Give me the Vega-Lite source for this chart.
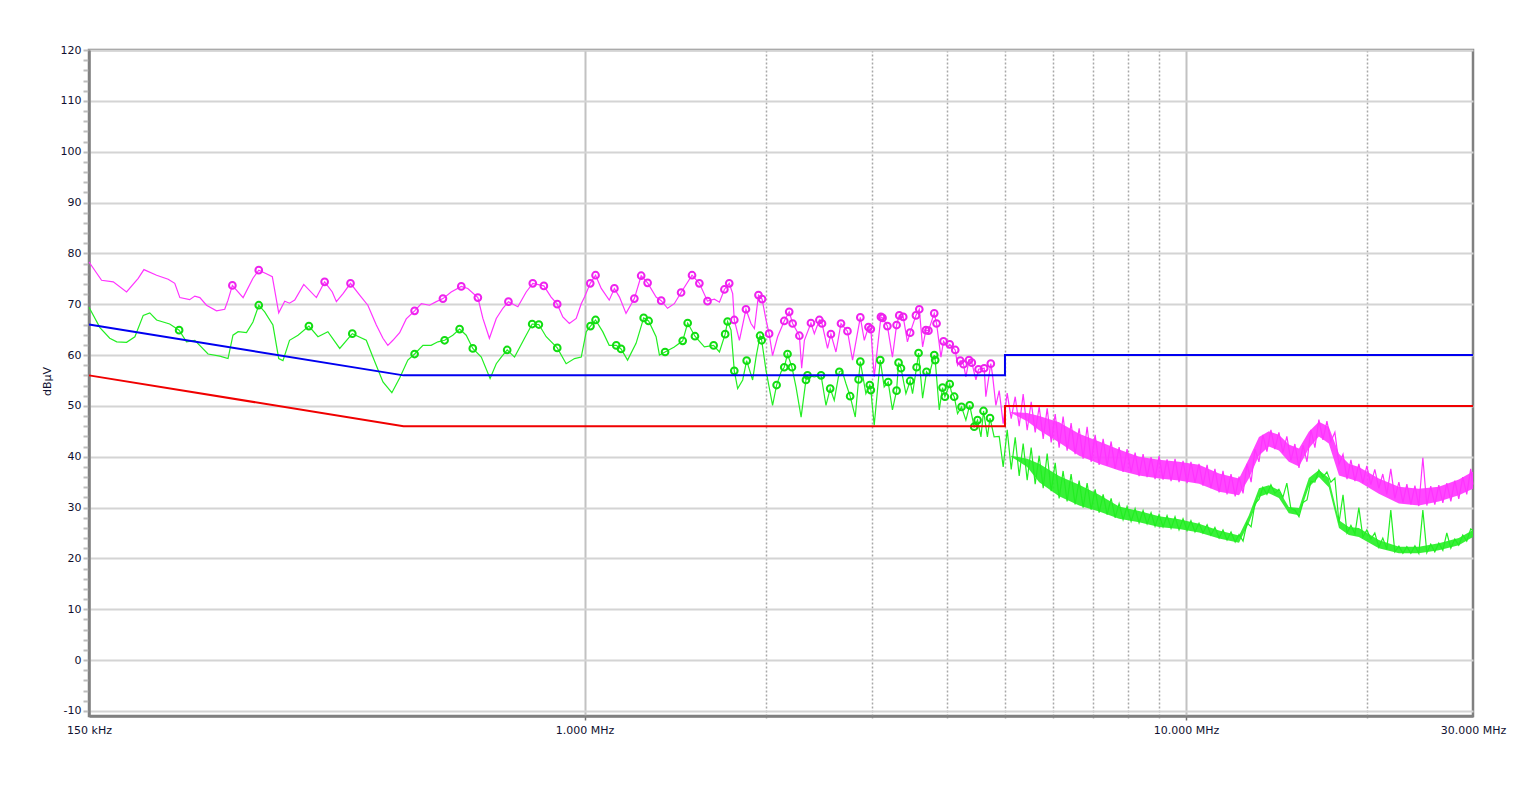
{
"$schema": "https://vega.github.io/schema/vega-lite/v6.json",
"width": 1384, "height": 666,
"autosize": {"type": "none"},
"padding": {"left": 89, "top": 50, "right": 51, "bottom": 71},
"background": "white",
"config": {"font": "DejaVu Sans", "view": {"stroke": "#808080", "strokeWidth": 2.5}},
"datasets": {
"lim": [{"f":0.15,"v":66,"l":"QP"},{"f":0.5,"v":56,"l":"QP"},{"f":5,"v":56,"l":"QP"},{"f":5,"v":60,"l":"QP"},{"f":30,"v":60,"l":"QP"},
{"f":0.15,"v":56,"l":"AV"},{"f":0.5,"v":46,"l":"AV"},{"f":5,"v":46,"l":"AV"},{"f":5,"v":50,"l":"AV"},{"f":30,"v":50,"l":"AV"}],
"pkband": [{"f":5.121,"lo":48.6,"hi":48.8},{"f":5.444,"lo":47.0,"hi":48.6},{"f":5.700,"lo":45.2,"hi":48.0},{"f":6.152,"lo":42.8,"hi":46.8},{"f":6.642,"lo":40.2,"hi":44.5},{"f":7.170,"lo":38.6,"hi":43.0},{"f":7.740,"lo":37.3,"hi":41.4},{"f":8.355,"lo":36.3,"hi":40.0},{"f":9.019,"lo":35.7,"hi":39.4},{"f":9.736,"lo":35.3,"hi":39.0},{"f":10.51,"lo":34.7,"hi":38.4},{"f":11.35,"lo":33.1,"hi":36.7},{"f":12.25,"lo":32.4,"hi":35.7},{"f":12.72,"lo":35.7,"hi":39.6},{"f":13.22,"lo":40.2,"hi":43.9},{"f":13.73,"lo":42.0,"hi":45.0},{"f":14.27,"lo":41.2,"hi":44.3},{"f":14.82,"lo":39.0,"hi":42.4},{"f":15.41,"lo":38.1,"hi":41.6},{"f":16.00,"lo":41.6,"hi":44.9},{"f":16.63,"lo":44.0,"hi":46.9},{"f":17.27,"lo":42.6,"hi":45.9},{"f":17.96,"lo":36.3,"hi":40.6},{"f":18.65,"lo":35.7,"hi":38.6},{"f":19.38,"lo":35.1,"hi":38.0},{"f":20.92,"lo":32.7,"hi":35.7},{"f":22.59,"lo":30.8,"hi":34.1},{"f":24.38,"lo":30.4,"hi":33.7},{"f":26.32,"lo":31.2,"hi":34.1},{"f":28.41,"lo":32.4,"hi":35.5},{"f":30.0,"lo":33.7,"hi":37.1}],
"avband": [{"f":5.121,"lo":40.0,"hi":40.2},{"f":5.444,"lo":38.0,"hi":39.6},{"f":5.700,"lo":35.0,"hi":38.6},{"f":6.152,"lo":32.2,"hi":36.2},{"f":6.642,"lo":30.4,"hi":34.5},{"f":7.170,"lo":29.2,"hi":32.5},{"f":7.740,"lo":27.8,"hi":30.2},{"f":8.355,"lo":27.1,"hi":29.3},{"f":9.019,"lo":26.2,"hi":28.3},{"f":9.736,"lo":25.8,"hi":27.7},{"f":10.51,"lo":25.1,"hi":26.8},{"f":11.35,"lo":23.9,"hi":25.5},{"f":12.25,"lo":23.1,"hi":24.5},{"f":12.72,"lo":26.9,"hi":28.5},{"f":13.22,"lo":32.1,"hi":33.8},{"f":13.73,"lo":32.8,"hi":34.4},{"f":14.27,"lo":31.9,"hi":33.4},{"f":14.82,"lo":28.9,"hi":30.1},{"f":15.41,"lo":28.5,"hi":29.9},{"f":16.00,"lo":34.0,"hi":35.8},{"f":16.63,"lo":36.0,"hi":37.4},{"f":17.27,"lo":34.0,"hi":35.8},{"f":17.96,"lo":26.0,"hi":27.5},{"f":18.65,"lo":24.6,"hi":26.2},{"f":19.38,"lo":24.2,"hi":26.0},{"f":20.92,"lo":22.0,"hi":23.6},{"f":22.59,"lo":21.0,"hi":22.3},{"f":24.38,"lo":21.0,"hi":22.3},{"f":26.32,"lo":21.6,"hi":23.0},{"f":28.41,"lo":22.6,"hi":24.0},{"f":30.0,"lo":24.2,"hi":25.6}],
"pk": [
{"f":0.150,"v":78.3},{"f":0.1574,"v":74.7},{"f":0.1646,"v":74.4},{"f":0.1732,"v":72.4},{"f":0.1811,"v":75.1},{"f":0.1851,"v":76.8},{"f":0.1943,"v":75.7},{"f":0.2031,"v":74.9},{"f":0.2083,"v":74.1},{"f":0.2124,"v":71.3},{"f":0.2205,"v":70.9},{"f":0.2249,"v":71.6},{"f":0.2293,"v":71.3},{"f":0.2352,"v":69.8},{"f":0.2444,"v":68.7},{"f":0.2522,"v":69.0},{"f":0.2554,"v":70.8},{"f":0.2597,"v":73.7,"m":1},{"f":0.2706,"v":71.3},{"f":0.2810,"v":75.1},{"f":0.2873,"v":76.7,"m":1},{"f":0.2958,"v":76.0},{"f":0.3026,"v":75.4},{"f":0.3101,"v":68.3},{"f":0.3173,"v":70.6},{"f":0.3232,"v":70.2},{"f":0.3297,"v":70.8},{"f":0.3413,"v":73.9},{"f":0.3582,"v":71.3},{"f":0.3697,"v":74.4,"m":1},{"f":0.3807,"v":72.4},{"f":0.3867,"v":70.5},{"f":0.3967,"v":72.1},{"f":0.4082,"v":74.1,"m":1},{"f":0.4228,"v":71.8},{"f":0.4362,"v":69.8},{"f":0.4506,"v":65.9},{"f":0.4622,"v":63.3},{"f":0.4709,"v":61.9},{"f":0.4801,"v":62.9},{"f":0.4927,"v":64.4},{"f":0.5053,"v":67.1},{"f":0.5217,"v":68.7,"m":1},{"f":0.5354,"v":70.1},{"f":0.5523,"v":69.8},{"f":0.5669,"v":70.5},{"f":0.5815,"v":71.1,"m":1},{"f":0.6001,"v":72.4},{"f":0.6238,"v":73.5,"m":1},{"f":0.6395,"v":73.1},{"f":0.6647,"v":71.3,"m":1},{"f":0.6776,"v":67.2},{"f":0.6947,"v":63.3},{"f":0.7132,"v":67.2},{"f":0.7314,"v":69.2},{"f":0.7472,"v":70.5,"m":1},{"f":0.7747,"v":69.5},{"f":0.7998,"v":72.4},{"f":0.8202,"v":74.1,"m":1},{"f":0.8557,"v":73.6,"m":1},{"f":0.8798,"v":71.4},{"f":0.9007,"v":70.0,"m":1},{"f":0.9202,"v":67.5},{"f":0.9434,"v":66.2},{"f":0.9686,"v":67.2},{"f":0.9874,"v":70.1},{"f":1.000,"v":71.4},{"f":1.022,"v":74.1,"m":1},{"f":1.043,"v":75.7,"m":1},{"f":1.066,"v":73.1},{"f":1.099,"v":70.8},{"f":1.121,"v":73.1,"m":1},{"f":1.143,"v":71.4},{"f":1.172,"v":68.2},{"f":1.210,"v":71.1,"m":1},{"f":1.242,"v":75.6,"m":1},{"f":1.273,"v":74.2,"m":1},{"f":1.315,"v":71.4},{"f":1.341,"v":70.7,"m":1},{"f":1.374,"v":69.2},{"f":1.410,"v":70.1},{"f":1.447,"v":72.3,"m":1},{"f":1.509,"v":75.7,"m":1},{"f":1.552,"v":74.1,"m":1},{"f":1.601,"v":70.6,"m":1},{"f":1.644,"v":71.0},{"f":1.676,"v":70.4},{"f":1.708,"v":72.9,"m":1},{"f":1.740,"v":74.1,"m":1},{"f":1.763,"v":72.1},{"f":1.774,"v":66.9,"m":1},{"f":1.809,"v":62.9},{"f":1.855,"v":69.0,"m":1},{"f":1.891,"v":66.2},{"f":1.916,"v":65.2},{"f":1.946,"v":71.8,"m":1},{"f":1.973,"v":71.0,"m":1},{"f":2.003,"v":66.9},{"f":2.027,"v":64.2,"m":1},{"f":2.054,"v":59.9},{"f":2.094,"v":63.6},{"f":2.148,"v":66.7,"m":1},{"f":2.189,"v":68.5,"m":1},{"f":2.218,"v":66.2,"m":1},{"f":2.276,"v":63.8,"m":1},{"f":2.296,"v":57.4},{"f":2.320,"v":62.9},{"f":2.379,"v":66.3,"m":1},{"f":2.410,"v":64.2},{"f":2.457,"v":66.9,"m":1},{"f":2.482,"v":66.2,"m":1},{"f":2.535,"v":61.3},{"f":2.568,"v":64.1,"m":1},{"f":2.618,"v":60.6},{"f":2.669,"v":66.2,"m":1},{"f":2.736,"v":64.7,"m":1},{"f":2.790,"v":59.0},{"f":2.874,"v":67.4,"m":1},{"f":2.918,"v":62.9},{"f":2.965,"v":65.5,"m":1},{"f":2.992,"v":65.1,"m":1},{"f":3.031,"v":55.7},{"f":3.110,"v":67.5,"m":1},{"f":3.129,"v":67.3,"m":1},{"f":3.188,"v":65.7,"m":1},{"f":3.250,"v":59.6},{"f":3.302,"v":65.9,"m":1},{"f":3.336,"v":67.8,"m":1},{"f":3.387,"v":67.5,"m":1},{"f":3.442,"v":62.6},{"f":3.478,"v":64.4,"m":1},{"f":3.556,"v":67.8,"m":1},{"f":3.602,"v":69.0,"m":1},{"f":3.648,"v":61.6},{"f":3.694,"v":64.9,"m":1},{"f":3.730,"v":64.8,"m":1},{"f":3.814,"v":68.2,"m":1},{"f":3.848,"v":66.2,"m":1},{"f":3.913,"v":59.6},{"f":3.952,"v":62.7,"m":1},{"f":4.012,"v":61.6},{"f":4.047,"v":62.1,"m":1},{"f":4.133,"v":61.0,"m":1},{"f":4.170,"v":58.0},{"f":4.213,"v":58.9,"m":1},{"f":4.266,"v":58.2,"m":1},{"f":4.305,"v":55.7},{"f":4.357,"v":59.0,"m":1},{"f":4.404,"v":58.5,"m":1},{"f":4.474,"v":55.1},{"f":4.519,"v":57.2,"m":1},{"f":4.618,"v":57.4,"m":1},{"f":4.647,"v":51.8},{"f":4.736,"v":58.3,"m":1},{"f":4.766,"v":56.2},{"f":4.829,"v":50.1},
{"f":4.891,"v":53.0},{"f":4.966,"v":46.5},{"f":5.043,"v":52.5},{"f":5.121,"v":47.5},{"f":5.200,"v":51.8},{"f":5.280,"v":46.0},{"f":5.361,"v":52.3},{"f":5.444,"v":45.2},{"f":5.528,"v":50.8},{"f":5.613,"v":44.8},{"f":5.700,"v":49.8},{"f":5.788,"v":43.5},{"f":5.877,"v":49.5},{"f":5.968,"v":42.8},{"f":6.060,"v":48.4},{"f":6.152,"v":41.8},{"f":6.247,"v":47.9},{"f":6.343,"v":41.2},{"f":6.441,"v":46.6},{"f":6.540,"v":40.5},{"f":6.642,"v":45.6},{"f":6.744,"v":39.6},{"f":6.848,"v":45.9},{"f":6.954,"v":39.0},{"f":7.061,"v":44.3},{"f":7.170,"v":38.4},{"f":7.281,"v":43.5},{"f":7.393,"v":38.2},{"f":7.507,"v":43.0},{"f":7.622,"v":37.6},{"f":7.740,"v":41.9},{"f":7.859,"v":37.0},{"f":7.980,"v":41.5},{"f":8.104,"v":36.9},{"f":8.229,"v":40.8},{"f":8.355,"v":36.2},{"f":8.484,"v":40.5},{"f":8.615,"v":36.0},{"f":8.747,"v":39.9},{"f":8.882,"v":35.6},{"f":9.019,"v":40.1},{"f":9.158,"v":35.5},{"f":9.299,"v":39.5},{"f":9.443,"v":35.2},{"f":9.588,"v":39.6},{"f":9.736,"v":35.0},{"f":9.886,"v":39.2},{"f":10.04,"v":34.8},{"f":10.19,"v":39.0},{"f":10.35,"v":34.9},{"f":10.51,"v":38.6},{"f":10.67,"v":34.3},{"f":10.84,"v":38.4},{"f":11.00,"v":33.8},{"f":11.17,"v":37.6},{"f":11.35,"v":33.0},{"f":11.52,"v":37.2},{"f":11.70,"v":32.6},{"f":11.88,"v":36.6},{"f":12.07,"v":32.2},{"f":12.25,"v":36.1},{"f":12.44,"v":32.8},{"f":12.63,"v":38.6},{"f":12.83,"v":35.0},{"f":13.02,"v":41.5},{"f":13.22,"v":39.0},{"f":13.42,"v":44.3},{"f":13.63,"v":41.0},{"f":13.84,"v":45.3},{"f":14.05,"v":41.5},{"f":14.27,"v":44.8},{"f":14.49,"v":40.8},{"f":14.71,"v":44.0},{"f":14.94,"v":39.3},{"f":15.17,"v":42.5},{"f":15.41,"v":37.8},{"f":15.65,"v":42.3},{"f":15.89,"v":39.0},{"f":16.13,"v":45.3},{"f":16.38,"v":41.8},{"f":16.63,"v":47.3},{"f":16.89,"v":43.3},{"f":17.15,"v":47.0},{"f":17.41,"v":43.0},{"f":17.68,"v":44.8},{"f":17.96,"v":38.5},{"f":18.24,"v":40.5},{"f":18.52,"v":35.6},{"f":18.80,"v":39.4},{"f":19.09,"v":35.2},{"f":19.38,"v":38.6},{"f":19.68,"v":34.8},{"f":19.98,"v":38.2},{"f":20.29,"v":34.5},{"f":20.60,"v":37.5},{"f":20.92,"v":33.8},{"f":21.24,"v":36.6},{"f":21.57,"v":32.6},{"f":21.90,"v":37.6},{"f":22.24,"v":31.8},{"f":22.59,"v":35.0},{"f":22.94,"v":31.0},{"f":23.29,"v":34.6},{"f":23.65,"v":30.6},{"f":24.02,"v":34.3},{"f":24.38,"v":30.3},{"f":24.76,"v":39.8},{"f":25.14,"v":30.4},{"f":25.52,"v":34.2},{"f":25.92,"v":30.6},{"f":26.32,"v":34.4},{"f":26.73,"v":30.9},{"f":27.14,"v":34.8},{"f":27.56,"v":31.2},{"f":27.98,"v":35.3},{"f":28.41,"v":31.7},{"f":28.85,"v":36.0},{"f":29.29,"v":32.6},{"f":29.74,"v":37.6},{"f":30.0,"v":34.5}
],
"av": [
{"f":0.150,"v":69.4},{"f":0.1564,"v":65.4},{"f":0.1624,"v":63.3},{"f":0.1668,"v":62.6},{"f":0.1732,"v":62.5},{"f":0.1788,"v":63.6},{"f":0.1846,"v":67.8},{"f":0.1893,"v":68.3},{"f":0.1943,"v":66.9},{"f":0.2043,"v":66.1},{"f":0.2118,"v":64.9,"m":1},{"f":0.2179,"v":62.6},{"f":0.2249,"v":62.9},{"f":0.2366,"v":60.2},{"f":0.2475,"v":59.8},{"f":0.2554,"v":59.3},{"f":0.2603,"v":63.9},{"f":0.2655,"v":64.6},{"f":0.2741,"v":64.4},{"f":0.2810,"v":66.5},{"f":0.2873,"v":69.8,"m":1},{"f":0.2939,"v":68.5},{"f":0.3033,"v":65.9},{"f":0.3101,"v":59.3},{"f":0.3152,"v":58.9},{"f":0.3232,"v":62.9},{"f":0.3339,"v":63.9},{"f":0.3481,"v":65.7,"m":1},{"f":0.3604,"v":63.6},{"f":0.3743,"v":64.6},{"f":0.3917,"v":61.3},{"f":0.4110,"v":64.2,"m":1},{"f":0.4336,"v":62.9},{"f":0.4447,"v":59.6},{"f":0.4622,"v":54.7},{"f":0.4782,"v":52.6},{"f":0.4927,"v":55.5},{"f":0.5084,"v":59.0},{"f":0.5217,"v":60.2,"m":1},{"f":0.5386,"v":61.9},{"f":0.5557,"v":61.9},{"f":0.5705,"v":62.6},{"f":0.5852,"v":62.9,"m":1},{"f":0.6039,"v":63.9},{"f":0.6198,"v":65.1,"m":1},{"f":0.6357,"v":63.9},{"f":0.6519,"v":61.3,"m":1},{"f":0.6735,"v":59.6},{"f":0.6965,"v":55.4},{"f":0.7132,"v":58.3},{"f":0.7270,"v":59.6},{"f":0.7436,"v":61.0,"m":1},{"f":0.7649,"v":59.6},{"f":0.7947,"v":63.3},{"f":0.8183,"v":66.1,"m":1},{"f":0.8395,"v":66.0,"m":1},{"f":0.8634,"v":63.6},{"f":0.9007,"v":61.4,"m":1},{"f":0.9320,"v":58.3},{"f":0.9622,"v":59.3},{"f":0.9874,"v":59.6},{"f":1.0065,"v":64.6},{"f":1.023,"v":65.7,"m":1},{"f":1.043,"v":66.9,"m":1},{"f":1.072,"v":64.6},{"f":1.099,"v":61.9},{"f":1.129,"v":61.9,"m":1},{"f":1.150,"v":61.2,"m":1},{"f":1.179,"v":59.0},{"f":1.218,"v":62.3},{"f":1.254,"v":67.3,"m":1},{"f":1.278,"v":66.7,"m":1},{"f":1.315,"v":63.6},{"f":1.332,"v":60.0},{"f":1.361,"v":60.6,"m":1},{"f":1.410,"v":61.6},{"f":1.456,"v":62.8,"m":1},{"f":1.484,"v":66.3,"m":1},{"f":1.526,"v":63.7,"m":1},{"f":1.582,"v":61.6},{"f":1.639,"v":61.9,"m":1},{"f":1.676,"v":60.6},{"f":1.713,"v":64.1,"m":1},{"f":1.729,"v":66.6,"m":1},{"f":1.752,"v":64.9},{"f":1.774,"v":56.9,"m":1},{"f":1.797,"v":53.4},{"f":1.832,"v":55.1},{"f":1.860,"v":58.9,"m":1},{"f":1.903,"v":55.1},{"f":1.928,"v":59.6},{"f":1.958,"v":63.8,"m":1},{"f":1.970,"v":62.9,"m":1},{"f":2.003,"v":57.0},{"f":2.054,"v":50.1},{"f":2.086,"v":54.1,"m":1},{"f":2.122,"v":56.7},{"f":2.148,"v":57.6,"m":1},{"f":2.175,"v":60.2,"m":1},{"f":2.212,"v":57.6,"m":1},{"f":2.247,"v":53.7},{"f":2.291,"v":47.8},{"f":2.334,"v":55.1,"m":1},{"f":2.348,"v":56.0,"m":1},{"f":2.410,"v":55.7},{"f":2.473,"v":56.0,"m":1},{"f":2.520,"v":50.1},{"f":2.561,"v":53.4,"m":1},{"f":2.601,"v":51.1},{"f":2.652,"v":56.7,"m":1},{"f":2.679,"v":57.0},{"f":2.720,"v":54.4},{"f":2.764,"v":51.9,"m":1},{"f":2.819,"v":47.8},{"f":2.855,"v":55.2,"m":1},{"f":2.874,"v":58.7,"m":1},{"f":2.936,"v":52.4},{"f":2.980,"v":54.1,"m":1},{"f":2.992,"v":53.1,"m":1},{"f":3.031,"v":46.2},{"f":3.102,"v":59.0,"m":1},{"f":3.149,"v":53.7},{"f":3.197,"v":54.7,"m":1},{"f":3.250,"v":49.2},{"f":3.302,"v":53.0,"m":1},{"f":3.327,"v":58.5,"m":1},{"f":3.358,"v":57.4,"m":1},{"f":3.422,"v":52.4},{"f":3.478,"v":54.9,"m":1},{"f":3.510,"v":52.4},{"f":3.565,"v":57.6,"m":1},{"f":3.592,"v":60.4,"m":1},{"f":3.648,"v":51.5},{"f":3.703,"v":56.7,"m":1},{"f":3.740,"v":56.0},{"f":3.814,"v":60.0,"m":1},{"f":3.828,"v":59.0,"m":1},{"f":3.888,"v":49.2},{"f":3.937,"v":53.6,"m":1},{"f":3.973,"v":51.8,"m":1},{"f":4.047,"v":54.3,"m":1},{"f":4.071,"v":52.8},{"f":4.117,"v":51.8,"m":1},{"f":4.170,"v":48.5},{"f":4.234,"v":49.8,"m":1},{"f":4.305,"v":47.2},{"f":4.368,"v":50.1,"m":1},{"f":4.444,"v":45.9,"m":1},{"f":4.502,"v":47.2,"m":1},{"f":4.561,"v":43.9},{"f":4.606,"v":49.0,"m":1},{"f":4.675,"v":43.9},{"f":4.722,"v":47.6,"m":1},{"f":4.797,"v":43.9},
{"f":4.891,"v":44.0},{"f":4.966,"v":38.0},{"f":5.043,"v":45.3},{"f":5.121,"v":37.5},{"f":5.200,"v":43.8},{"f":5.280,"v":36.2},{"f":5.361,"v":42.6},{"f":5.444,"v":35.4},{"f":5.528,"v":41.8},{"f":5.613,"v":34.6},{"f":5.700,"v":40.2},{"f":5.788,"v":33.8},{"f":5.877,"v":40.6},{"f":5.968,"v":33.2},{"f":6.060,"v":38.8},{"f":6.152,"v":31.8},{"f":6.247,"v":37.2},{"f":6.343,"v":31.2},{"f":6.441,"v":36.6},{"f":6.540,"v":30.6},{"f":6.642,"v":35.3},{"f":6.744,"v":30.0},{"f":6.848,"v":34.8},{"f":6.954,"v":29.6},{"f":7.061,"v":33.6},{"f":7.170,"v":29.0},{"f":7.281,"v":32.6},{"f":7.393,"v":28.6},{"f":7.507,"v":31.8},{"f":7.622,"v":28.0},{"f":7.740,"v":30.8},{"f":7.859,"v":27.6},{"f":7.980,"v":30.2},{"f":8.104,"v":27.3},{"f":8.229,"v":29.8},{"f":8.355,"v":27.0},{"f":8.484,"v":29.4},{"f":8.615,"v":26.8},{"f":8.747,"v":29.0},{"f":8.882,"v":26.3},{"f":9.019,"v":28.6},{"f":9.158,"v":26.2},{"f":9.299,"v":28.4},{"f":9.443,"v":25.9},{"f":9.588,"v":28.2},{"f":9.736,"v":25.6},{"f":9.886,"v":27.8},{"f":10.04,"v":25.5},{"f":10.19,"v":27.4},{"f":10.35,"v":25.2},{"f":10.51,"v":26.9},{"f":10.67,"v":25.0},{"f":10.84,"v":26.6},{"f":11.00,"v":24.6},{"f":11.17,"v":26.1},{"f":11.35,"v":24.0},{"f":11.52,"v":25.6},{"f":11.70,"v":23.6},{"f":11.88,"v":25.2},{"f":12.07,"v":23.2},{"f":12.25,"v":24.7},{"f":12.44,"v":23.4},{"f":12.63,"v":27.0},{"f":12.83,"v":26.2},{"f":13.02,"v":30.8},{"f":13.22,"v":31.6},{"f":13.42,"v":34.0},{"f":13.63,"v":32.6},{"f":13.84,"v":34.5},{"f":14.05,"v":32.8},{"f":14.27,"v":33.6},{"f":14.49,"v":32.0},{"f":14.71,"v":34.8},{"f":14.94,"v":29.8},{"f":15.17,"v":29.5},{"f":15.41,"v":28.2},{"f":15.65,"v":31.0},{"f":15.89,"v":31.5},{"f":16.13,"v":35.2},{"f":16.38,"v":35.0},{"f":16.63,"v":37.4},{"f":16.89,"v":36.0},{"f":17.15,"v":37.0},{"f":17.41,"v":35.0},{"f":17.68,"v":35.8},{"f":17.96,"v":27.0},{"f":18.24,"v":32.5},{"f":18.52,"v":25.0},{"f":18.80,"v":26.5},{"f":19.09,"v":24.8},{"f":19.38,"v":30.0},{"f":19.68,"v":24.2},{"f":19.98,"v":25.6},{"f":20.29,"v":23.8},{"f":20.60,"v":25.0},{"f":20.92,"v":22.2},{"f":21.24,"v":24.0},{"f":21.57,"v":21.8},{"f":21.90,"v":29.5},{"f":22.24,"v":21.3},{"f":22.59,"v":22.4},{"f":22.94,"v":21.0},{"f":23.29,"v":22.3},{"f":23.65,"v":21.0},{"f":24.02,"v":22.5},{"f":24.38,"v":21.0},{"f":24.76,"v":29.5},{"f":25.14,"v":21.1},{"f":25.52,"v":22.8},{"f":25.92,"v":21.3},{"f":26.32,"v":23.0},{"f":26.73,"v":21.6},{"f":27.14,"v":25.0},{"f":27.56,"v":22.0},{"f":27.98,"v":23.8},{"f":28.41,"v":22.6},{"f":28.85,"v":24.6},{"f":29.29,"v":23.4},{"f":29.74,"v":25.8},{"f":30.0,"v":25.5}
]
},
"encoding": {
"x": {"field": "f", "type": "quantitative", "scale": {"type": "log", "domain": [0.15, 30], "nice": false},
 "axis": {"title": null, "values": [0.15,1,2,3,4,5,6,7,8,9,10,20,30],
  "labelExpr": "datum.value == 0.15 ? '150 kHz' : (datum.value == 1 || datum.value == 10 || datum.value == 30) ? format(datum.value, '.3f') + ' MHz' : ''",
  "grid": true,
  "gridColor": {"condition": {"test": "datum.value == 1 || datum.value == 10", "value": "#c2c2c2"}, "value": "#a8a8a8"},
  "gridDash": {"condition": {"test": "datum.value == 1 || datum.value == 10", "value": []}, "value": [2, 2]},
  "gridWidth": {"condition": {"test": "datum.value == 1 || datum.value == 10", "value": 2}, "value": 1.5},
  "gridOpacity": {"condition": {"test": "datum.value == 0.15 || datum.value == 30", "value": 0}, "value": 1},
  "tickSize": 4,
  "tickColor": {"condition": {"test": "datum.value == 1 || datum.value == 10", "value": "#707070"}, "value": "#a8a8a8"},
  "tickDash": {"condition": {"test": "datum.value == 1 || datum.value == 10", "value": []}, "value": [2, 2]},
  "tickWidth": 1.5,
  "tickOpacity": {"condition": {"test": "datum.value == 0.15 || datum.value == 30", "value": 0}, "value": 1},
  "labelPadding": 4, "labelFontSize": 11, "labelColor": "#101030", "labelFlush": false, "labelOverlap": false,
  "domainColor": "#808080", "domainWidth": 2.5}},
"y": {"field": "v", "type": "quantitative", "scale": {"domain": [-11, 120], "nice": false, "zero": false},
 "axis": {"title": "dBµV", "titleAngle": 270, "titleX": -42, "titleY": 331, "titleAlign": "center", "titleBaseline": "middle", "titleFontSize": 11, "titleFontWeight": "normal", "titleColor": "#101030",
  "values": [-10,-8,-6,-4,-2,0,2,4,6,8,10,12,14,16,18,20,22,24,26,28,30,32,34,36,38,40,42,44,46,48,50,52,54,56,58,60,62,64,66,68,70,72,74,76,78,80,82,84,86,88,90,92,94,96,98,100,102,104,106,108,110,112,114,116,118,120],
  "labelExpr": "datum.value % 10 == 0 ? '' + datum.value : ''",
  "gridColor": "#d4d4d4", "gridWidth": 2,
  "gridOpacity": {"condition": {"test": "datum.value % 10 == 0", "value": 1}, "value": 0},
  "tickSize": 6, "tickColor": "#bdbdbd", "tickWidth": 2,
  "labelPadding": 2, "labelFontSize": 11, "labelColor": "#101030", "labelOverlap": false,
  "domainColor": "#808080", "domainWidth": 2.5}}
},
"layer": [
{"data": {"name": "avband"}, "mark": {"type": "area", "color": "#22ee22", "opacity": 0.9}, "encoding": {"y": {"field": "lo", "type": "quantitative", "title": "dBµV"}, "y2": {"field": "hi"}}},
{"data": {"name": "av"}, "mark": {"type": "line", "color": "#22ee22", "strokeWidth": 1.2}},
{"data": {"name": "pkband"}, "mark": {"type": "area", "color": "#ff33ff", "opacity": 0.9}, "encoding": {"y": {"field": "lo", "type": "quantitative", "title": "dBµV"}, "y2": {"field": "hi"}}},
{"data": {"name": "pk"}, "mark": {"type": "line", "color": "#ff33ff", "strokeWidth": 1.2}},
{"data": {"name": "av"}, "transform": [{"filter": "datum.m == 1"}], "mark": {"type": "point", "shape": "circle", "filled": false, "color": "#11dd11", "size": 45, "strokeWidth": 2, "opacity": 1}},
{"data": {"name": "pk"}, "transform": [{"filter": "datum.m == 1"}], "mark": {"type": "point", "shape": "circle", "filled": false, "color": "#ee22ee", "size": 45, "strokeWidth": 2, "opacity": 1}},
{"data": {"name": "lim"}, "mark": {"type": "line", "strokeWidth": 2},
 "encoding": {"color": {"field": "l", "type": "nominal", "scale": {"domain": ["QP", "AV"], "range": ["#0000f0", "#f00000"]}, "legend": null}, "order": {"value": null}}}
]
}
